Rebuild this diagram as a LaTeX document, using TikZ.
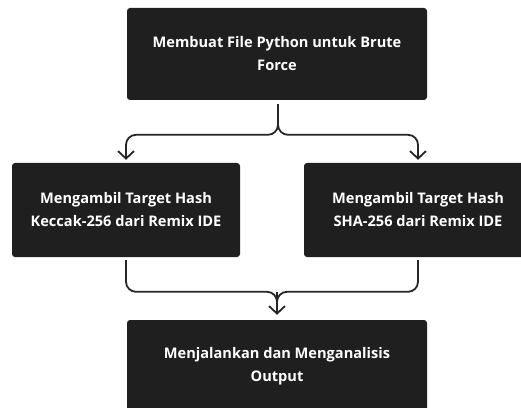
\documentclass[tikz,border=0pt]{standalone}
\usepackage{fontspec}
\setmainfont{Open Sans}
\usetikzlibrary{arrows.meta}
\definecolor{boxfill}{HTML}{1F1F1F}
\definecolor{wire}{HTML}{262626}
\begin{document}
\begin{tikzpicture}[x=1pt, y=1pt]
    \tikzset{stepbox/.style={fill=boxfill, rounded corners=3pt, inner sep=0pt,
               text=white, align=center, font=\fontsize{14.6}{23}\selectfont\bfseries},
             wide/.style={stepbox, minimum width=300pt, minimum height=92pt},
             mid/.style={stepbox, minimum width=228pt, minimum height=94pt},
             link/.style={draw=wire, line width=1.8pt, rounded corners=10pt,
               -{Straight Barb[length=7.5pt, width=16pt, line width=1.8pt]}}}
    \clip (0,0) rectangle (521,407);
    % boxes
    \node[wide] (make) at (277,353) {Membuat File Python untuk Brute\\Force};
    \node[mid] (keccak) at (126,197) {Mengambil Target Hash\\Keccak-256 dari Remix IDE};
    \node[mid] (sha) at (418,197) {Mengambil Target Hash\\SHA-256 dari Remix IDE};
    \node[wide] (run) at (277,41) {Menjalankan dan Menganalisis\\Output};
    % split from the first box
    \coordinate (split) at ([xshift=1pt, yshift=-4pt]make.south);
    \foreach \dst in {keccak, sha} {
      \draw[link] (split) |- ([yshift=28pt]\dst.north) -- ([yshift=3pt]\dst.north);
    }
    % merge into the last box
    \coordinate (merge) at ([yshift=28pt]run.north);
    \foreach \src in {keccak, sha} {
      \draw[draw=wire, line width=1.8pt, rounded corners=10pt]
        ([yshift=-3pt]\src.south) |- (merge) -- ++(0,-6pt);
    }
    \draw[link] (merge) -- ([yshift=5pt]run.north);
\end{tikzpicture}
\end{document}
